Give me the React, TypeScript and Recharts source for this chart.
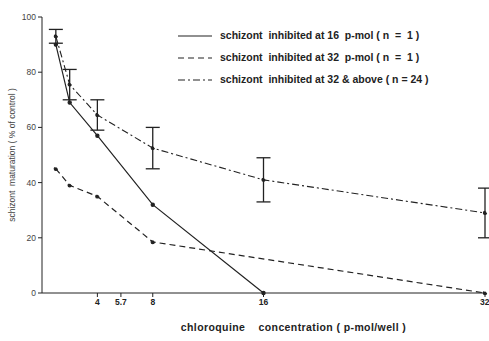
import React from "react";
import { ComposedChart, Line, XAxis, YAxis, ErrorBar } from "recharts";

const xTicks = [4, 5.7, 8, 16, 32];
const yTicks = [0, 20, 40, 60, 80, 100];

const solidX = [1, 2, 4, 8, 16];
const solidY = [90, 69, 57, 32, 0];

const dashedX = [1, 2, 4, 8, 32];
const dashedY = [45, 39, 35, 18.5, 0];

const dashDotX = [1, 2, 4, 8, 16, 32];
const dashDotY = [93, 75.5, 64.5, 52.5, 41, 29];
const dashDotErr = [2.5, 5.5, 5.5, 7.5, 8, 9];

const legendLabels = [
  "schizont  inhibited at 16  p-mol ( n  =  1 )",
  "schizont  inhibited at 32  p-mol ( n  =  1 )",
  "schizont  inhibited at 32 & above ( n = 24 )",
];
const legendDash = ["", "6 4", "7 3 2 3"];

const solidData = solidX.map((x, i) => ({ x, y: solidY[i] }));
const dashedData = dashedX.map((x, i) => ({ x, y: dashedY[i] }));
const dashDotData = dashDotX.map((x, i) => ({ x, y: dashDotY[i], e: dashDotErr[i] }));

const ink = "#222";
const font = "'Liberation Sans', Arial, sans-serif";

const LegendBox = () => (
  <div
    style={{
      position: "absolute",
      left: 178,
      top: 24,
      fontFamily: font,
      fontSize: 10.5,
      fontWeight: 700,
      color: ink,
    }}
  >
    {legendLabels.map((l, i) => (
      <div key={i} style={{ display: "flex", alignItems: "center", height: 22 }}>
        <svg width={36} height={8} style={{ marginRight: 6 }}>
          <line x1={0} y1={5} x2={34} y2={5} stroke={ink} strokeWidth={1.2} strokeDasharray={legendDash[i]} />
        </svg>
        <span style={{ whiteSpace: "pre" }}>{l}</span>
      </div>
    ))}
  </div>
);

const dot = { r: 1.6, fill: ink, stroke: ink };

export default function App() {
  return (
    <div style={{ position: "absolute", left: 0, top: 0, width: 489, height: 341, background: "#fff" }}>
      <ComposedChart width={489} height={341} margin={{ top: 17, right: 4, bottom: 22, left: 0 }}>
        <XAxis
          type="number"
          dataKey="x"
          domain={[0, 32]}
          ticks={xTicks}
          allowDuplicatedCategory={false}
          stroke={ink}
          tickSize={4}
          height={26}
          tick={{ fill: ink, fontSize: 8.5, fontWeight: 700, fontFamily: font }}
          label={{
            value: "chloroquine\u00a0\u00a0\u00a0\u00a0concentration ( p-mol/well )",
            position: "insideBottom",
            offset: -12,
            dx: 30,
            style: { fill: ink, fontSize: 10.5, fontWeight: 700, fontFamily: font, letterSpacing: 0.4 },
          }}
        />
        <YAxis
          type="number"
          domain={[0, 100]}
          ticks={yTicks}
          stroke={ink}
          width={42}
          tickSize={4}
          tick={{ fill: "#444", fontSize: 8.5, fontFamily: font }}
          label={{
            value: "schizont\u00a0\u00a0maturation ( % of control )",
            angle: -90,
            position: "insideLeft",
            offset: 12,
            style: { textAnchor: "middle", fill: "#444", fontSize: 8.5, fontFamily: font },
          }}
        />
        <Line data={solidData} dataKey="y" stroke={ink} strokeWidth={1.2} dot={dot} isAnimationActive={false} />
        <Line data={dashedData} dataKey="y" stroke={ink} strokeWidth={1.2} strokeDasharray="6 4" dot={dot} isAnimationActive={false} />
        <Line data={dashDotData} dataKey="y" stroke={ink} strokeWidth={1.1} strokeDasharray="7 3 2 3" dot={dot} isAnimationActive={false}>
          <ErrorBar dataKey="e" width={7} stroke={ink} strokeWidth={1.3} direction="y" />
        </Line>
      </ComposedChart>
      <LegendBox />
    </div>
  );
}
